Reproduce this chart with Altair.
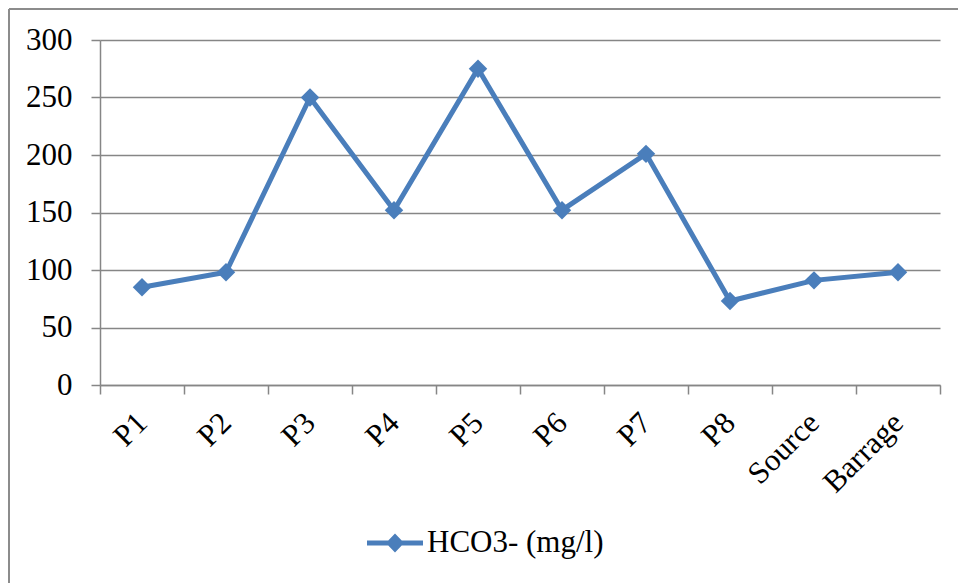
import altair as alt
import pandas as pd

categories = ["P1", "P2", "P3", "P4", "P5", "P6", "P7", "P8", "Source", "Barrage"]
values = [85, 98, 250, 152, 275, 152, 201, 73, 91, 98]
series_name = "HCO3- (mg/l)"
y_ticks = [0, 50, 100, 150, 200, 250, 300]

df = pd.DataFrame({"site": categories, "value": values, "series": [series_name] * len(categories)})

FONT = "Liberation Serif"
BLUE = "#4A7EBB"
GRID = "#868686"

x_enc = alt.X(
    "site:N",
    sort=categories,
    scale=alt.Scale(type="band", paddingInner=0, paddingOuter=0),
    axis=alt.Axis(
        title=None,
        tickBand="extent",
        grid=False,
        domainColor=GRID,
        domainWidth=1.5,
        tickColor=GRID,
        tickWidth=1.5,
        tickSize=9,
        labelAngle=-45,
        labelAlign="right",
        labelBaseline="middle",
        labelPadding=24,
        labelFont=FONT,
        labelFontSize=31,
        labelColor="black",
    ),
)
y_enc = alt.Y(
    "value:Q",
    scale=alt.Scale(domain=[0, 300], nice=False, zero=True),
    axis=alt.Axis(
        title=None,
        values=y_ticks,
        grid=True,
        gridColor=GRID,
        gridWidth=1.5,
        domainColor=GRID,
        domainWidth=1.5,
        tickColor=GRID,
        tickWidth=1.5,
        tickSize=9,
        labelPadding=19,
        labelFont=FONT,
        labelFontSize=31,
        labelColor="black",
    ),
)

base = alt.Chart(df)

line = base.mark_line(color=BLUE, strokeWidth=5).encode(x=x_enc, y=y_enc)

legend_path = ("M-1,-0.09L-0.24,-0.09L0,-0.34L0.24,-0.09L1,-0.09L1,0.09"
               "L0.24,0.09L0,0.34L-0.24,0.09L-1,0.09Z")

points = base.mark_point(shape="diamond", filled=True, size=340, opacity=1).encode(
    x=x_enc,
    y=y_enc,
    color=alt.Color(
        "series:N",
        scale=alt.Scale(range=[BLUE]),
        legend=alt.Legend(
            title=None,
            orient="none",
            legendX=267,
            legendY=475,
            padding=0,
            symbolType=legend_path,
            symbolSize=3136,
            symbolStrokeWidth=0,
            labelFont=FONT,
            labelFontSize=31,
            labelColor="black",
            labelOffset=4,
            labelLimit=400,
        ),
    ),
)

border_top = alt.Chart(df).mark_rule(color="#8c8c8c", strokeWidth=1.5).encode(
    x=alt.value(-91), x2=alt.value(860), y=alt.value(-31)
)
border_left = alt.Chart(df).mark_rule(color="#8c8c8c", strokeWidth=1.5).encode(
    x=alt.value(-91), y=alt.value(-31), y2=alt.value(545)
)

chart = (
    alt.layer(border_top, border_left, line, points)
    .properties(
        width=840,
        height=345,
        autosize=alt.AutoSizeParams(type="none"),
        padding={"left": 100, "top": 40, "right": 18, "bottom": 198},
        background="white",
    )
    .configure_view(stroke=None)
)

chart.save("out.html", embed_options={"renderer": "svg", "actions": False})
